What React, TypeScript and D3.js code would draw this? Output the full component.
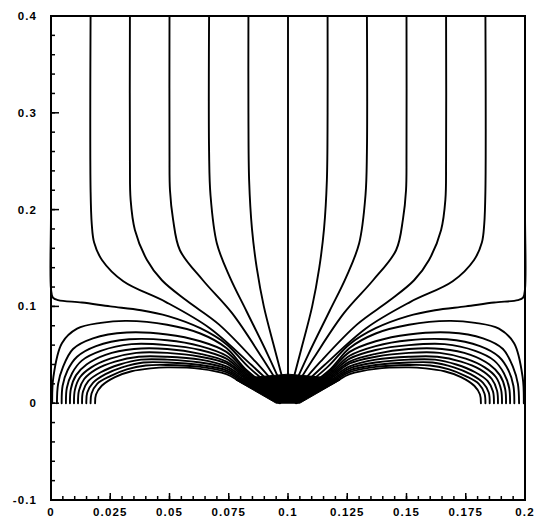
import React from 'react';
import * as d3 from 'd3';

const W = 535;
const H = 517;

// Axis ticks
const xTickValues = [0, 0.025, 0.05, 0.075, 0.1, 0.125, 0.15, 0.175, 0.2];
const xTickLabels = ['0', '0.025', '0.05', '0.075', '0.1', '0.125', '0.15', '0.175', '0.2'];
const yTickValues = [-0.1, 0, 0.1, 0.2, 0.3, 0.4];
const yTickLabels = ['-0.1', '0', '0.1', '0.2', '0.3', '0.4'];
const xMinorStep = 0.005;
const yMinorStep = 0.02;

// Field lines (left half; the right half is the mirror image about x = 0.1)
const centerLine: number[][] = [[0.1, 0.4], [0.1, 0.2], [0.1, 0.004]];

const topLine1 = [[0.0167, 0.4], [0.0167, 0.22], [0.0172, 0.185], [0.0182, 0.166], [0.0215, 0.148], [0.0305, 0.126], [0.0485, 0.1045], [0.067, 0.0775], [0.0846, 0.0394], [0.1, 0.004]];
const topLine2 = [[0.0333, 0.4], [0.0333, 0.25], [0.0336, 0.21], [0.0354, 0.179], [0.0405, 0.148], [0.0468, 0.127], [0.0572, 0.106], [0.0707, 0.0817], [0.0862, 0.0431], [0.1, 0.004]];
const topLine3 = [[0.05, 0.4], [0.05, 0.26], [0.0502, 0.22], [0.0515, 0.19], [0.0544, 0.158], [0.0641, 0.127], [0.0764, 0.093], [0.0888, 0.048], [0.1, 0.004]];
const topLine4 = [[0.0667, 0.4], [0.0667, 0.26], [0.0673, 0.215], [0.07, 0.165], [0.0755, 0.13], [0.0825, 0.095], [0.0915, 0.05], [0.1, 0.004]];
const topLine5 = [[0.0833, 0.4], [0.0833, 0.3], [0.0836, 0.23], [0.0848, 0.18], [0.0868, 0.14], [0.0898, 0.1], [0.0945, 0.055], [0.1, 0.004]];
const topLinesLeft = [topLine1, topLine2, topLine3, topLine4, topLine5];

const wallLineLeft = [[0, 0.4], [0, 0.2], [0, 0.118], [0.0008, 0.109], [0.003, 0.1065], [0.013, 0.104], [0.025, 0.1], [0.038, 0.096], [0.0494, 0.09], [0.063, 0.0775], [0.074, 0.061], [0.0836, 0.0367], [0.1, 0.004]];

const arc0 = [[0.0005, 0], [0.001, 0.027], [0.0046, 0.062], [0.011, 0.077], [0.021, 0.083], [0.032, 0.085], [0.049, 0.081], [0.063, 0.072], [0.074, 0.057], [0.0827, 0.0338], [0.0993, 0.004]];
const arc1 = [[0.0025, 0], [0.003, 0.02], [0.005, 0.037], [0.0093, 0.056], [0.0177, 0.067], [0.032, 0.073], [0.049, 0.071], [0.063, 0.064], [0.074, 0.053], [0.0824, 0.0327], [0.099, 0.0036]];
const arc2 = [[0.0045, 0], [0.0049, 0.018], [0.007, 0.034], [0.011, 0.048], [0.019, 0.059], [0.033, 0.066], [0.049, 0.065], [0.063, 0.059], [0.074, 0.049], [0.0821, 0.0315], [0.0987, 0.0032]];
const arc3 = [[0.0063, 0], [0.0067, 0.016], [0.0089, 0.031], [0.013, 0.044], [0.021, 0.054], [0.034, 0.061], [0.049, 0.06], [0.063, 0.055], [0.074, 0.046], [0.0818, 0.0304], [0.0984, 0.0028]];
const arc4 = [[0.008, 0], [0.0084, 0.015], [0.0106, 0.029], [0.015, 0.04], [0.023, 0.05], [0.035, 0.056], [0.049, 0.056], [0.063, 0.051], [0.074, 0.043], [0.0816, 0.0292], [0.0981, 0.0024]];
const arc5 = [[0.0097, 0], [0.0101, 0.014], [0.0123, 0.027], [0.017, 0.037], [0.025, 0.046], [0.036, 0.052], [0.049, 0.052], [0.063, 0.048], [0.074, 0.041], [0.0813, 0.028], [0.0978, 0.002]];
const arc6 = [[0.0114, 0], [0.0118, 0.013], [0.014, 0.025], [0.019, 0.035], [0.027, 0.043], [0.037, 0.048], [0.049, 0.048], [0.063, 0.045], [0.074, 0.038], [0.0811, 0.0268], [0.0975, 0.0016]];
const arc7 = [[0.0131, 0], [0.0135, 0.012], [0.0158, 0.023], [0.021, 0.032], [0.029, 0.04], [0.038, 0.045], [0.049, 0.045], [0.063, 0.042], [0.074, 0.036], [0.0808, 0.0255], [0.0972, 0.0012]];
const arc8 = [[0.0149, 0], [0.0153, 0.011], [0.0177, 0.021], [0.023, 0.03], [0.03, 0.037], [0.039, 0.042], [0.049, 0.042], [0.063, 0.0395], [0.074, 0.034], [0.0806, 0.0243], [0.0969, 0.0008]];
const arc9 = [[0.0167, 0], [0.0171, 0.01], [0.0195, 0.02], [0.025, 0.028], [0.032, 0.035], [0.04, 0.039], [0.049, 0.0395], [0.063, 0.0375], [0.074, 0.032], [0.0804, 0.0231], [0.0967, 0.0004]];
const arc10 = [[0.0186, 0], [0.019, 0.009], [0.0214, 0.018], [0.027, 0.027], [0.034, 0.033], [0.042, 0.036], [0.049, 0.037], [0.063, 0.0355], [0.074, 0.03], [0.0802, 0.0218], [0.0965, 0]];
const groundArcsLeft = [arc0, arc1, arc2, arc3, arc4, arc5, arc6, arc7, arc8, arc9, arc10];

// Dense black region where the lines merge at the centre (outline)
const centerBlob = [[0.078, 0.024], [0.086, 0.027], [0.1, 0.03], [0.114, 0.027], [0.122, 0.024], [0.105, 0], [0.095, 0]];

const X_MIN = 0, X_MAX = 0.2, Y_MIN = -0.1, Y_MAX = 0.4;

export default function App() {
  const x = d3.scaleLinear().domain([X_MIN, X_MAX]).range([51, 525]);
  const y = d3.scaleLinear().domain([Y_MIN, Y_MAX]).range([500, 16]);

  const mirror = (pts: number[][]) => pts.map(([a, b]) => [X_MAX - a, b]);
  const leftLines = [...topLinesLeft, wallLineLeft, ...groundArcsLeft];
  const allLines = [centerLine, ...leftLines, ...leftLines.map(mirror)];

  const line = d3
    .line<number[]>()
    .x((d) => x(d[0]))
    .y((d) => y(d[1]))
    .curve(d3.curveCatmullRom.alpha(0.5));

  const blob = d3
    .line<number[]>()
    .x((d) => x(d[0]))
    .y((d) => y(d[1]))
    .curve(d3.curveLinearClosed);

  const xMinor = d3.range(0, Math.round((X_MAX - X_MIN) / xMinorStep) + 1).map((i) => X_MIN + i * xMinorStep);
  const yMinor = d3.range(0, Math.round((Y_MAX - Y_MIN) / yMinorStep) + 1).map((i) => Y_MIN + i * yMinorStep);

  const font = { fontFamily: '"Liberation Sans", Arial, sans-serif', fontWeight: 700, fontSize: 11.5, letterSpacing: 1.1 };

  return (
    <svg width={W} height={H} style={{ position: 'absolute', left: 0, top: 0, background: '#fff' }}>
      <g fill="none" stroke="#000" strokeWidth={1.9} strokeLinejoin="round" strokeLinecap="round">
        {allLines.map((pts, i) => (
          <path key={i} d={line(pts) || ''} />
        ))}
      </g>
      <path d={blob(centerBlob) || ''} fill="#000" stroke="#000" strokeWidth={1} />
      {/* frame */}
      <rect x={x(X_MIN)} y={y(Y_MAX)} width={x(X_MAX) - x(X_MIN)} height={y(Y_MIN) - y(Y_MAX)} fill="none" stroke="#000" strokeWidth={2} />
      {/* ticks */}
      <g stroke="#000" strokeWidth={1.5}>
        {xMinor.map((v, i) => (
          <line key={'xm' + i} x1={x(v)} x2={x(v)} y1={y(Y_MIN)} y2={y(Y_MIN) - 4} />
        ))}
        {xTickValues.map((v, i) => (
          <line key={'xM' + i} x1={x(v)} x2={x(v)} y1={y(Y_MIN)} y2={y(Y_MIN) - 7} />
        ))}
        {yMinor.map((v, i) => (
          <line key={'ym' + i} x1={x(X_MIN)} x2={x(X_MIN) + 4} y1={y(v)} y2={y(v)} />
        ))}
        {yTickValues.map((v, i) => (
          <line key={'yM' + i} x1={x(X_MIN)} x2={x(X_MIN) + 8} y1={y(v)} y2={y(v)} />
        ))}
      </g>
      <g {...font} fill="#000">
        {xTickValues.map((v, i) => (
          <text key={'xl' + i} x={x(v)} y={516} textAnchor="middle">
            {xTickLabels[i]}
          </text>
        ))}
        {yTickValues.map((v, i) => (
          <text key={'yl' + i} x={x(X_MIN) - 14} y={y(v)} dy="0.35em" textAnchor="end">
            {yTickLabels[i]}
          </text>
        ))}
      </g>
    </svg>
  );
}
